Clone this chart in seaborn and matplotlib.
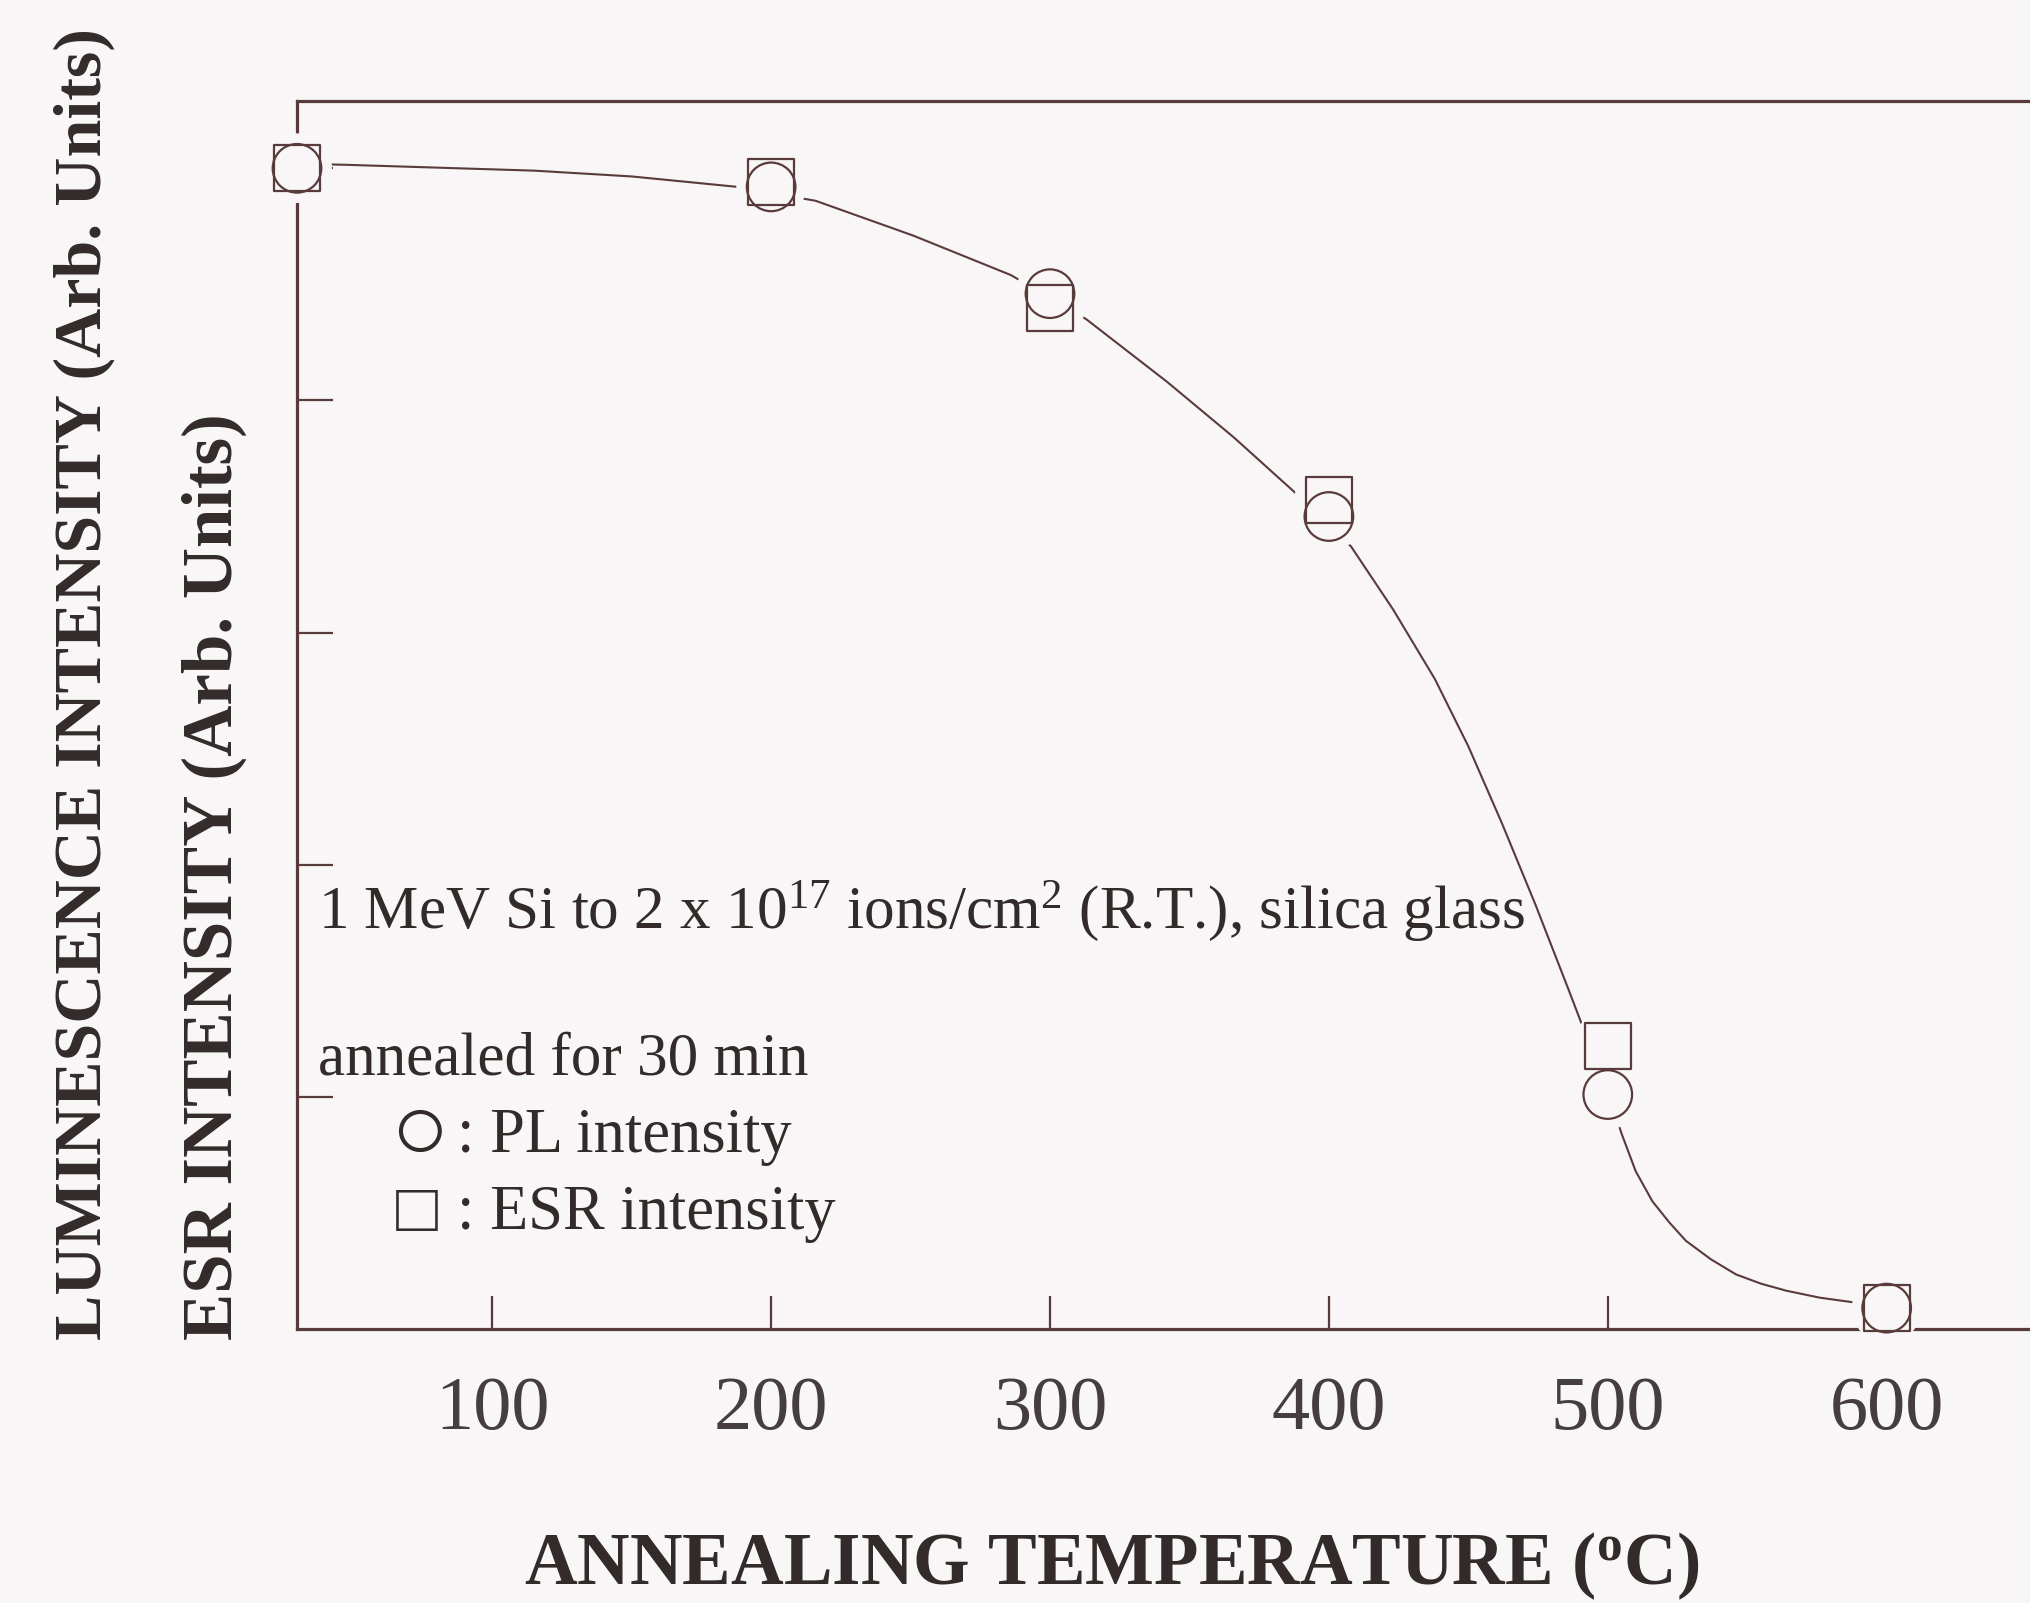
import matplotlib
matplotlib.use("Agg")
import matplotlib.pyplot as plt
import seaborn as sns
import pandas as pd

# Annealing temperature (deg C) and intensities (arbitrary units)
temperature = [30, 200, 300, 400, 500, 600]
pl_intensity = [5.00, 4.92, 4.46, 3.50, 1.01, 0.09]
esr_intensity = [5.00, 4.94, 4.40, 3.57, 1.22, 0.09]

# Guide curve drawn through both data sets
curve_temperature = [30, 48, 115, 150, 188, 216, 251, 286, 313, 342, 366, 390,
                     408, 423, 438, 450, 462, 474, 486, 493, 500, 505, 510, 516,
                     522, 528, 537, 546, 555, 564, 576, 588, 600]
curve_intensity = [5.02, 5.015, 4.99, 4.965, 4.92, 4.86, 4.71, 4.54, 4.35, 4.08,
                   3.84, 3.58, 3.37, 3.10, 2.80, 2.51, 2.18, 1.83, 1.46, 1.24,
                   1.02, 0.84, 0.68, 0.55, 0.46, 0.38, 0.30, 0.235, 0.195, 0.165,
                   0.135, 0.115, 0.10]

x_ticks = [100, 200, 300, 400, 500, 600]
x_tick_labels = ["100", "200", "300", "400", "500", "600"]
y_ticks = [1, 2, 3, 4, 5]

BG = "#f8f6f6"
INK = "#5a3b3b"
TEXT = "#332a2a"
W, H = 2031, 1603

sns.set_theme(style="white")
plt.rcParams["font.family"] = ["Liberation Serif", "DejaVu Sans"]
plt.rcParams["mathtext.fontset"] = "custom"
plt.rcParams["mathtext.rm"] = "Liberation Serif"
plt.rcParams["mathtext.it"] = "Liberation Serif:italic"
plt.rcParams["mathtext.bf"] = "Liberation Serif:bold"

fig = plt.figure(figsize=(W / 100, H / 100), dpi=100, facecolor=BG)
# axes run past the right edge of the page, so the right frame is cut off
ax = fig.add_axes([297 / W, 1 - 1329 / H, (2054 - 297) / W, (1329 - 101) / H])
ax.set_facecolor(BG)

curve = pd.DataFrame({"T": curve_temperature, "I": curve_intensity})
sns.lineplot(data=curve, x="T", y="I", ax=ax, color=INK, linewidth=1.5,
             sort=False, estimator=None, zorder=2)

points = pd.DataFrame({
    "T": temperature + temperature,
    "I": pl_intensity + esr_intensity,
})
# paper-coloured halo that opens a gap in the curve around each symbol
sns.scatterplot(data=points, x="T", y="I", ax=ax, marker="o",
                s=50 ** 2, color=BG, edgecolor="none", linewidth=0,
                zorder=3, legend=False)

pl = pd.DataFrame({"T": temperature, "I": pl_intensity})
esr = pd.DataFrame({"T": temperature, "I": esr_intensity})
sns.scatterplot(data=pl, x="T", y="I", ax=ax, marker="o", s=35 ** 2,
                facecolor="none", edgecolor=INK, linewidth=1.6, zorder=4,
                legend=False)
sns.scatterplot(data=esr, x="T", y="I", ax=ax, marker="s", s=33 ** 2,
                facecolor="none", edgecolor=INK, linewidth=1.6, zorder=4,
                legend=False)
for i, coll in enumerate(ax.collections):
    coll.set_clip_on(False)
    if i >= 1:
        coll.set_facecolor("none")
        coll.set_edgecolor(INK)

ax.set_xlim(30, 660)
ax.set_ylim(0, 5.29)
ax.set_xticks(x_ticks)
ax.set_xticklabels(x_tick_labels)
ax.set_yticks(y_ticks)
ax.set_yticklabels([])
ax.tick_params(axis="x", which="major", bottom=True, direction="in",
               length=24, width=1.6, color=INK, pad=34, labelsize=55,
               labelcolor="#463e3e")
ax.tick_params(axis="y", which="major", left=True, direction="in",
               length=26, width=1.6, color=INK)
for side in ["left", "bottom", "top"]:
    ax.spines[side].set_color(INK)
    ax.spines[side].set_linewidth(2.3)
ax.spines["right"].set_visible(False)
ax.set_xlabel("")
ax.set_ylabel("")


def px(x, y):
    return x / W, 1 - y / H


fig.text(*px(1112, 1566), r"ANNEALING TEMPERATURE (${}^{\mathbf{o}}$C)",
         ha="center", va="center", fontsize=52.5, fontweight="bold",
         color=TEXT)
fig.text(*px(84, 1340), "LUMINESCENCE INTENSITY (Arb. Units)", rotation=90,
         ha="center", va="bottom", fontsize=49, fontweight="bold", color=TEXT)
fig.text(*px(214, 1340), "ESR INTENSITY (Arb. Units)", rotation=90,
         ha="center", va="bottom", fontsize=51, fontweight="bold", color=TEXT)

fig.text(*px(318, 911),
         r"1 MeV Si to 2 x 10$^{17}$ ions/cm$^{2}$ (R.T.), silica glass",
         ha="left", va="center", fontsize=44, color=TEXT)
fig.text(*px(318, 1060), "annealed for 30 min", ha="left", va="center",
         fontsize=44, color=TEXT)
# key: symbol drawn at cap height, then its description
fig.text(*px(419, 1137), "○", ha="center", va="center", fontsize=70,
         color=TEXT)
fig.text(*px(457, 1137), ": PL intensity", ha="left", va="center",
         fontsize=45, color=TEXT)
fig.text(*px(417, 1214), "□", ha="center", va="center", fontsize=50,
         color=TEXT)
fig.text(*px(457, 1214), ": ESR intensity", ha="left", va="center",
         fontsize=45, color=TEXT)

fig.savefig("out.png", dpi=100, facecolor=BG)
